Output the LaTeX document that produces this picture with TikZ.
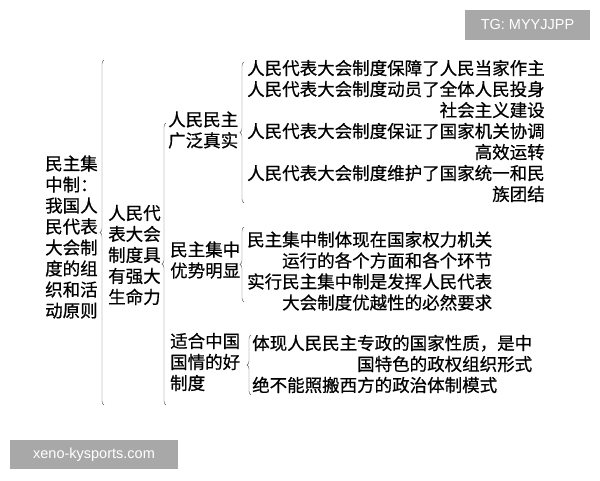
\documentclass[tikz,border=0pt]{standalone}
\usepackage{fontspec}
\setmainfont[FakeBold=0.6]{Noto Sans CJK SC}
\newfontfamily\wmfont{Liberation Sans}
\usetikzlibrary{decorations.pathreplacing}
\begin{document}
\begin{tikzpicture}[x=1pt,y=-1pt,
    txt/.style={inner sep=0pt,anchor=west,font=\fontsize{17.5}{21}\selectfont},
    brc/.style={draw=black!65,thin,decorate,decoration={brace,amplitude=4pt}},
    wm/.style={fill=black!34,text=white,inner sep=0pt,font=\wmfont\fontsize{14.5}{16}\selectfont}]
  \useasboundingbox (0,0) rectangle (600,480);
  \node[txt,align=left] (root) at (45,237) {民主集\\中制：\\我国人\\民代表\\大会制\\度的组\\织和活\\动原则};
  \node[txt,align=left] (power) at (108,255) {人民代\\表大会\\制度具\\有强大\\生命力};
  \node[txt,align=left] (dem) at (168,130) {人民民主\\广泛真实};
  \node[txt,align=left] (adv) at (170,260) {民主集中\\优势明显};
  \node[txt,align=left] (fit) at (170,362) {适合中国\\国情的好\\制度};
  \node[txt,align=right] (demlist) at (247,131) {人民代表大会制度保障了人民当家作主\\人民代表大会制度动员了全体人民投身\\社会主义建设\\人民代表大会制度保证了国家机关协调\\高效运转\\人民代表大会制度维护了国家统一和民\\族团结};
  \node[txt,align=right] (advlist) at (247,271) {民主集中制体现在国家权力机关\\运行的各个方面和各个环节\\实行民主集中制是发挥人民代表\\大会制度优越性的必然要求};
  \node[txt,align=right] (fitlist) at (252,364) {体现人民民主专政的国家性质，是中\\国特色的政权组织形式\\绝不能照搬西方的政治体制模式\hspace*{2em}};
  \coordinate (b1s) at (104,405);
  \coordinate (b1e) at (104,60);
  \coordinate (b2s) at (166,405);
  \coordinate (b2e) at (166,123);
  \coordinate (b3s) at (244,203);
  \coordinate (b3e) at (244,62);
  \coordinate (b4s) at (244,302);
  \coordinate (b4e) at (244,227);
  \coordinate (b5s) at (251,395);
  \coordinate (b5e) at (251,335);
  \draw[brc] (b1s) -- (b1e);
  \draw[brc] (b2s) -- (b2e);
  \draw[brc] (b3s) -- (b3e);
  \draw[brc] (b4s) -- (b4e);
  \draw[brc] (b5s) -- (b5e);
  \node[wm,minimum width=125pt,minimum height=30pt] (tag) at (527.5,25) {TG: MYYJJPP};
  \node[wm,minimum width=168pt,minimum height=29pt] (site) at (94,454.5) {xeno-kysports.com};
\end{tikzpicture}
\end{document}
